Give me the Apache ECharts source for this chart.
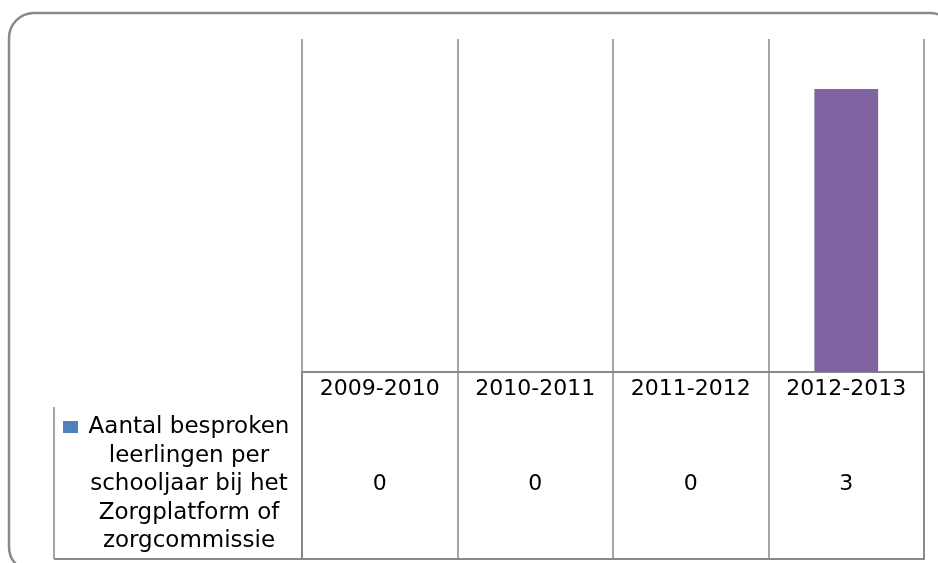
<!DOCTYPE html>
<html>
<head>
<meta charset="utf-8">
<script src="https://cdn.jsdelivr.net/npm/echarts@6/dist/echarts.min.js"></script>
<style>
html,body{margin:0;padding:0;background:#fff;}
#c{width:938px;height:563px;}
</style>
</head>
<body>
<div id="c"></div>
<script>
const categories = ['2009-2010', '2010-2011', '2011-2012', '2012-2013'];
const values = [0, 0, 0, 3];
const pointColors = ['#4F81BD', '#C0504D', '#9BBB59', '#8064A2'];
const seriesName = 'Aantal besproken leerlingen per schooljaar bij het Zorgplatform of zorgcommissie';
const legendLines = ['Aantal besproken', 'leerlingen per', 'schooljaar bij het', 'Zorgplatform of', 'zorgcommissie'];

const LINE = '#898989';
const FONT = 'DejaVu Sans';

const chart = echarts.init(document.getElementById('c'), null, {renderer: 'canvas'});
chart.setOption({
  animation: false,
  backgroundColor: '#fff',
  grid: [
    {left: 302, right: 14, top: 39, bottom: 191, containLabel: false},
    {left: 302, right: 14, top: 372, bottom: 4, containLabel: false,
     show: true, borderColor: LINE, borderWidth: 2, backgroundColor: 'transparent'}
  ],
  xAxis: [
    {
      type: 'category', gridIndex: 0, data: categories, boundaryGap: true,
      axisLine: {show: true, lineStyle: {color: LINE, width: 2}},
      axisTick: {show: false},
      axisLabel: {show: true, color: '#000', fontFamily: FONT, fontSize: 22, margin: 6, interval: 0},
      splitLine: {show: true, interval: 0, lineStyle: {color: LINE, width: 1.5}}
    },
    {
      type: 'category', gridIndex: 1, data: categories, boundaryGap: true,
      axisLine: {show: false}, axisTick: {show: false},
      axisLabel: {show: true, inside: true, interval: 0, color: '#000', fontFamily: FONT, fontSize: 22, margin: 64,
        formatter: (v, i) => String(values[i])},
      splitLine: {show: true, interval: 0, lineStyle: {color: LINE, width: 1.5}}
    }
  ],
  yAxis: [
    {type: 'value', gridIndex: 0, min: 0, max: 3.53, show: false, splitLine: {show: false}},
    {type: 'value', gridIndex: 1, show: false, splitLine: {show: false}}
  ],
  series: [{
    name: seriesName,
    type: 'bar',
    xAxisIndex: 0, yAxisIndex: 0,
    barWidth: '41%',
    data: values.map((v, i) => ({value: v, itemStyle: {color: pointColors[i]}})),
    itemStyle: {color: pointColors[0]}
  }],
  graphic: [
    {type: 'rect', shape: {x: 9, y: 13, width: 946, height: 559, r: 25},
     style: {fill: 'none', stroke: '#8a8a8a', lineWidth: 2.5}, silent: true},
    {type: 'line', shape: {x1: 54, y1: 407, x2: 54, y2: 559}, style: {stroke: LINE, lineWidth: 1.5}},
    {type: 'line', shape: {x1: 54, y1: 559, x2: 302, y2: 559}, style: {stroke: LINE, lineWidth: 2}},
    {type: 'rect', shape: {x: 63, y: 421, width: 15, height: 12}, style: {fill: pointColors[0]}},
    {type: 'text', x: 189, y: 413,
     style: {text: legendLines.join('\n'), fill: '#000', font: '23px "DejaVu Sans"', align: 'center',
       verticalAlign: 'top', lineHeight: 28.5}}
  ]
});
</script>
</body>
</html>
